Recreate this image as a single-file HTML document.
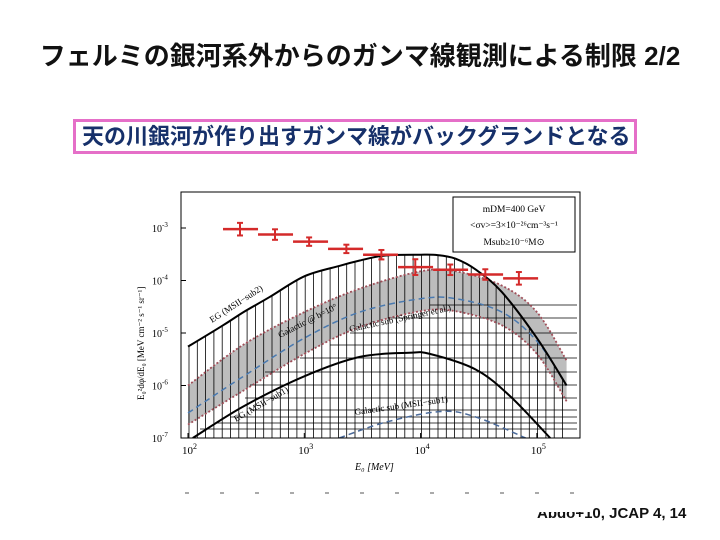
<!DOCTYPE html>
<html><head><meta charset="utf-8"><style>
body{margin:0;background:#fff;}
#page{position:relative;width:720px;height:540px;overflow:hidden;background:#fff;font-family:"Liberation Sans","Noto Sans CJK JP",sans-serif;}
#title{position:absolute;left:0;width:720px;top:36px;text-align:center;font-size:26px;font-weight:bold;color:#111;white-space:nowrap;}
#sub{position:absolute;left:73px;top:119px;width:552px;height:29px;border:3px solid #e56fc8;font-size:22px;font-weight:bold;color:#16306a;line-height:29px;padding-left:6px;box-sizing:content-box;white-space:nowrap;overflow:hidden;}
#cite{position:absolute;left:537px;top:505px;font-size:15px;font-weight:bold;color:#111;}
#citecover{position:absolute;left:530px;top:500px;width:60px;height:12px;background:#fff;}
svg{position:absolute;left:0;top:0;}
</style></head><body>
<div id="page">
<div id="title">フェルミの銀河系外からのガンマ線観測による制限 2/2</div>
<div id="sub">天の川銀河が作り出すガンマ線がバックグランドとなる</div>
<svg id="chart" width="720" height="540"></svg>
<div id="cite">Abdo+10, JCAP 4, 14</div>
<div id="citecover"></div>
</div>
<script>
const binLo=[200,400,800,1600,3200,6400,12800,25600,51200];
const binHi=[400,800,1600,3200,6400,12800,25600,51200,102400];
const pointE=[280,560,1100,2300,4600,9000,18000,36000,70000];
const pointF=[9.5e-4,7.5e-4,5.5e-4,4e-4,3.1e-4,1.8e-4,1.6e-4,1.3e-4,1.1e-4];
const pointErr=[0.12,0.1,0.08,0.08,0.09,0.15,0.1,0.1,0.12];
const egSub2E=[100,200,300,500,1000,2000,3000,5000,10000,14000,20000,30000,50000,100000,180000];
const egSub2F=[5.5e-6,1.4e-5,2.5e-5,4.8e-5,1.2e-4,1.9e-4,2.4e-4,3e-4,3.1e-4,3.05e-4,2.6e-4,1.6e-4,6e-5,8e-6,1e-6];
const bandE=[100,300,1000,3000,10000,20000,50000,100000,180000];
const bandHi=[1e-6,6e-6,2.5e-5,7e-5,1.5e-4,1.5e-4,8e-5,2.5e-5,3e-6];
const bandLo=[1.8e-7,8e-7,4e-6,1.3e-5,2.6e-5,2.6e-5,1.4e-5,4e-6,5e-7];
const bandMid=[3e-7,1.5e-6,8e-6,2.5e-5,4.5e-5,4.5e-5,2.5e-5,7e-6,1e-6];
const egSub1E=[110,300,1000,3000,8000,12000,30000,60000,130000];
const egSub1F=[1e-7,4e-7,1.5e-6,3.5e-6,4.2e-6,4e-6,2e-6,6e-7,1e-7];
const galSubE=[2000,5000,15000,30000,80000];
const galSubF=[1e-7,2e-7,3.2e-7,2.5e-7,1e-7];
const xTicks=[100,1000,10000,100000];
const xTickLabels=["10","10","10","10"];
const xTickExp=["2","3","4","5"];
const yTicks=[1e-3,1e-4,1e-5,1e-6,1e-7];
const yTickExp=["-3","-4","-5","-6","-7"];

const NS="http://www.w3.org/2000/svg";
const svg=document.getElementById('chart');
const L=181,R=580,T=192,B=438;
function X(e){return 188+(Math.log10(e)-2)*116.3;}
function Y(f){return 228+(-3-Math.log10(f))*52.5;}
function mk(tag,attrs,parent){const el=document.createElementNS(NS,tag);for(const k in attrs)el.setAttribute(k,attrs[k]);(parent||svg).appendChild(el);return el;}
function pts(E,F){return E.map((e,i)=>[X(e),Y(F[i])]);}
function smooth(p,start){let d=start?'M'+p[0][0].toFixed(1)+','+p[0][1].toFixed(1):'L'+p[0][0].toFixed(1)+','+p[0][1].toFixed(1);
for(let i=0;i<p.length-1;i++){const p0=p[i-1]||p[i],p1=p[i],p2=p[i+1],p3=p[i+2]||p2;
const c1=[p1[0]+(p2[0]-p0[0])/6,p1[1]+(p2[1]-p0[1])/6],c2=[p2[0]-(p3[0]-p1[0])/6,p2[1]-(p3[1]-p1[1])/6];
d+=` C${c1[0].toFixed(1)},${c1[1].toFixed(1)} ${c2[0].toFixed(1)},${c2[1].toFixed(1)} ${p2[0].toFixed(1)},${p2[1].toFixed(1)}`;}return d;}
function pathOf(E,F){return smooth(pts(E,F),true);}
function interp(E,F,e){const l=Math.log10(e);for(let i=0;i<E.length-1;i++){const a=Math.log10(E[i]),b=Math.log10(E[i+1]);if(l>=a&&l<=b){const t=(l-a)/(b-a);return Math.pow(10,Math.log10(F[i])*(1-t)+Math.log10(F[i+1])*t);}}return null;}

const clip=mk('clipPath',{id:'pc'});mk('rect',{x:L,y:T,width:R-L,height:B-T},clip);
const g=mk('g',{'clip-path':'url(#pc)'});


const band=mk('path',{d:pathOf(bandE,bandHi)+' '+smooth(pts(bandE.slice().reverse(),bandLo.slice().reverse()),false)+'Z',fill:'#bdbdbd'},g);


for(let x=189;x<=577;x+=8.3){const e=Math.pow(10,2+(x-188)/116.3);const f=interp(egSub2E,egSub2F,e);if(!f)continue;
const ln=mk('line',{x1:x,x2:x,y1:Y(f),y2:B,stroke:'#000','stroke-width':0.8},g);
}
[305,318,333,345,358,372,385,398,410,417,423,429].forEach((y,i)=>{const x1=[430,390,350,330,300,265,250,245,250,230,215,200][i];
const ln=mk('line',{x1:x1,x2:577,y1:y,y2:y,stroke:'#000','stroke-width':0.7},g);
});

const hi=mk('path',{d:pathOf(bandE,bandHi),fill:'none',stroke:'#a0505a','stroke-width':1.8,'stroke-dasharray':'2,2'},g);

const lo=mk('path',{d:pathOf(bandE,bandLo),fill:'none',stroke:'#a0505a','stroke-width':1.8,'stroke-dasharray':'2,2'},g);

const mid=mk('path',{d:pathOf(bandE,bandMid),fill:'none',stroke:'#4a7ab0','stroke-width':1.5,'stroke-dasharray':'6,4'},g);

const s2=mk('path',{d:pathOf(egSub2E,egSub2F),fill:'none',stroke:'#000','stroke-width':2},g);

const s1=mk('path',{d:pathOf(egSub1E,egSub1F),fill:'none',stroke:'#000','stroke-width':2},g);

const gs=mk('path',{d:pathOf(galSubE,galSubF),fill:'none',stroke:'#4a6a9a','stroke-width':1.5,'stroke-dasharray':'6,4'},g);


pointE.forEach((e,i)=>{const gp=mk('g',{},g);

const y=Y(pointF[i]);
mk('line',{x1:X(binLo[i]),x2:X(binHi[i]),y1:y,y2:y,stroke:'#d42a2a','stroke-width':2.5},gp);
const y1=Y(pointF[i]*Math.pow(10,pointErr[i])),y2=Y(pointF[i]/Math.pow(10,pointErr[i]));
mk('line',{x1:X(e),x2:X(e),y1:y1,y2:y2,stroke:'#d42a2a','stroke-width':2},gp);
mk('line',{x1:X(e)-3,x2:X(e)+3,y1:y1,y2:y1,stroke:'#d42a2a','stroke-width':2},gp);
mk('line',{x1:X(e)-3,x2:X(e)+3,y1:y2,y2:y2,stroke:'#d42a2a','stroke-width':2},gp);});

function lbl(txt,x,y,rot,name,size){const t=mk('text',{x:x,y:y,transform:`rotate(${rot} ${x} ${y})`,'font-family':'Liberation Serif, serif','font-size':size||9,fill:'#000'},g);t.textContent=txt;
}
lbl('EG (MSII−sub2)',212,323,-33,'label-eg-sub2');
lbl('Galactic @ b=10°',280,338,-27,'label-galactic-b10');
lbl('Galactic sub (Springer et al.)',350,332,-12,'label-galactic-sub-springel');
lbl('EG (MSII−sub1)',236,422,-30,'label-eg-sub1');
lbl('Galactic sub (MSII−sub1)',355,415,-8,'label-galactic-sub-msii');

const fr=mk('rect',{x:L,y:T,width:R-L,height:B-T,fill:'none',stroke:'#000','stroke-width':1});

xTicks.forEach((e,i)=>{const x=X(e);
const tk=mk('line',{x1:x,x2:x,y1:B,y2:B-5,stroke:'#000'});
const t=mk('text',{x:x-6,y:B+16,'font-family':'Liberation Serif, serif','font-size':11,fill:'#000'});
t.textContent=xTickLabels[i];const s=mk('tspan',{dy:-5,'font-size':8},t);s.textContent=xTickExp[i];
});
yTicks.forEach((f,i)=>{const y=Y(f);
const tk=mk('line',{x1:L,x2:L+5,y1:y,y2:y,stroke:'#000'});
const t=mk('text',{x:152,y:y+4,'font-family':'Liberation Serif, serif','font-size':10,fill:'#000'});
t.textContent='10';const s=mk('tspan',{dy:-5,'font-size':7},t);s.textContent=yTickExp[i];
});
const xt=mk('text',{x:355,y:470,'font-family':'Liberation Serif, serif','font-size':10,'font-style':'italic'});xt.textContent='E₀ [MeV]';

const yt=mk('text',{x:144,y:400,transform:'rotate(-90 144 400)','font-family':'Liberation Serif, serif','font-size':9});yt.textContent='E₀²dφ/dE₀ [MeV cm⁻² s⁻¹ sr⁻¹]';


const lg=mk('g',{});
mk('rect',{x:453,y:197,width:122,height:55,fill:'#fff',stroke:'#000','stroke-width':1},lg);
[['mDM=400 GeV',212],['<σv>=3×10⁻²⁶cm⁻³s⁻¹',228],['Msub≥10⁻⁶M⊙',245]].forEach(([s,y])=>{const t=mk('text',{x:514,y:y,'text-anchor':'middle','font-family':'Liberation Serif, serif','font-size':9.5},lg);t.textContent=s;
});

for(let x=185;x<585;x+=35){const d=mk('line',{x1:x,x2:x+4,y1:493,y2:493,stroke:'#aaa','stroke-width':2});}
</script>
</body></html>
